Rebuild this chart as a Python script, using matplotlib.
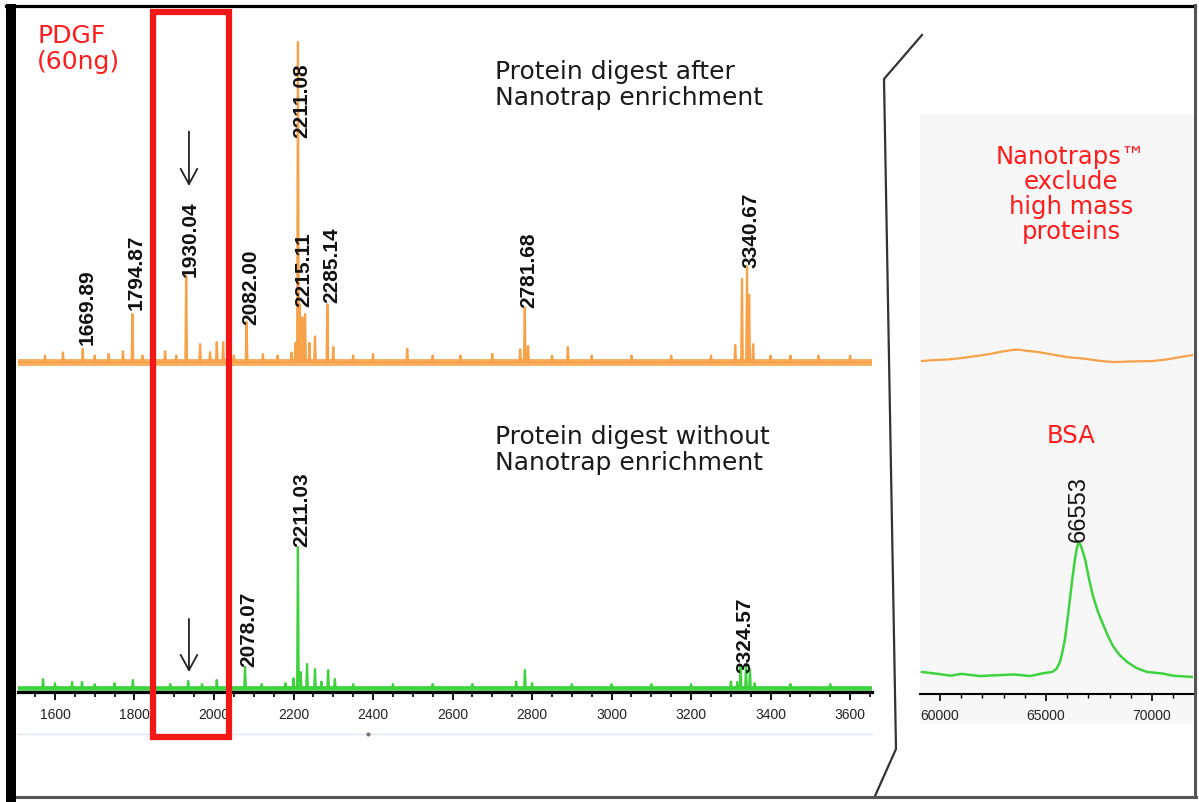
import matplotlib
matplotlib.use("Agg")
import matplotlib.pyplot as plt
from matplotlib.patches import Rectangle
from matplotlib.lines import Line2D
from matplotlib.ticker import MultipleLocator, StrMethodFormatter

# ---- data (m/z, relative intensity) ----
after_mz = [1575, 1620, 1669.89, 1700, 1735, 1771, 1794.87, 1820, 1877, 1905,
            1930.04, 1965, 1990, 2007, 2023, 2050, 2082.00, 2123, 2160, 2195,
            2205, 2211.08, 2215.11, 2222, 2229, 2240, 2254, 2285.14, 2300, 2350,
            2400, 2486, 2550, 2620, 2700, 2770, 2781.68, 2790, 2850, 2890,
            2950, 3050, 3150, 3250, 3311, 3328, 3340.67, 3346, 3356, 3400,
            3450, 3520, 3600]
after_int = [2, 3, 4.1, 2, 2.5, 3.4, 15, 2, 3.4, 2,
             27, 5.6, 3.1, 6.2, 6.2, 2, 12.5, 2.5, 2, 3,
             6, 100, 18, 14, 15, 6, 8, 18, 4.7, 2,
             2.5, 4.1, 2, 2, 2.5, 4, 17, 5, 2, 4.7,
             2, 2, 2, 2, 5.3, 26, 30, 21, 5.6, 2,
             2, 2, 2]

without_mz = [1570, 1600, 1643, 1668, 1700, 1750, 1796, 1850, 1890, 1935,
              1970, 2007, 2040, 2078.07, 2120, 2180, 2200, 2211.03, 2218, 2234,
              2254, 2270, 2287, 2304, 2350, 2450, 2550, 2650, 2760, 2782,
              2800, 2900, 3000, 3100, 3200, 3300, 3316, 3324.57, 3338, 3348,
              3360, 3450, 3550]
without_int = [2.8, 1.5, 1.9, 1.9, 1.2, 1.5, 2.5, 1.2, 1.2, 2.2,
               1.2, 2.5, 1.5, 6.6, 1.2, 1.5, 3, 44, 5, 7.5,
               5.9, 2, 5.6, 2.8, 1.2, 1.2, 1.2, 1.2, 2, 5.6,
               1.5, 1.2, 1.2, 1.2, 1.2, 2, 1.9, 6.6, 7.2, 5.9,
               1.5, 1.2, 1.2]

# annotated peaks: m/z, text, height of label foot
after_lab_mz = [1669.89, 1794.87, 1930.04, 2082.00, 2211.08, 2215.11, 2285.14, 2781.68, 3340.67]
after_lab_txt = ["1669.89", "1794.87", "1930.04", "2082.00", "2211.08", "2215.11",
                 "2285.14", "2781.68", "3340.67"]
after_lab_y = [5.6, 16.6, 26.9, 11.9, 70.3, 17.5, 18.75, 17.2, 29.7]

without_lab_mz = [2078.07, 2211.03, 3324.57]
without_lab_txt = ["2078.07", "2211.03", "3324.57"]
without_lab_y = [6.9, 44.4, 5.0]

# high mass window
hi_after_mz = [59151, 59800, 60400, 61085, 61700, 62358, 62900, 63396, 63700, 64100,
               64575, 65300, 65991, 66800, 67500, 68160, 69000, 70047, 70700, 71321, 71934]
hi_after_int = [5.0, 5.4, 5.6, 6.2, 6.9, 7.7, 8.6, 9.2, 9.4, 8.9,
                8.5, 7.5, 6.5, 5.9, 5.1, 4.6, 4.8, 5.0, 5.6, 6.5, 7.3]

bsa_mz = [59151, 60000, 60500, 61000, 61887, 62500, 63500, 64245, 64800, 65283,
          65500, 65660, 65780, 65896, 66010, 66132, 66250, 66368, 66460, 66553,
          66650, 66840, 67030, 67217, 67430, 67642, 67900, 68160, 68480, 68821,
          69250, 69764, 70500, 71000, 71934]
bsa_int = [7.0, 6.3, 5.8, 6.4, 5.7, 5.9, 6.2, 5.7, 6.5, 7.0,
           8.0, 10.2, 13.5, 17.5, 23.5, 30.2, 37.0, 42.9, 46.5, 48.3,
           47.0, 42.9, 36.5, 31.1, 26.5, 22.9, 18.8, 15.2, 12.3, 10.2,
           8.3, 7.0, 6.5, 5.8, 5.4]
bsa_peak = 66553

W, H = 1199, 803
ORANGE = "#f7a248"
GREEN = "#3fd23f"
RED = "#ff1c1c"

plt.rcParams["font.family"] = ["DejaVu Sans"]
fig = plt.figure(figsize=(W / 100, H / 100), dpi=100)


def box(x0, y0, x1, y1):
    # pixel box (top-left origin) -> figure rect
    return [x0 / W, 1 - y1 / H, (x1 - x0) / W, (y1 - y0) / H]


def fx(x):
    return x / W


def fy(y):
    return 1 - y / H


def sticks(mz, inten, lo, hi, w=2.0):
    xs, ys = [lo], [0]
    for m, h in sorted(zip(mz, inten)):
        xs += [m - w, m, m + w]
        ys += [0, h, 0]
    xs.append(hi)
    ys.append(0)
    return xs, ys


LO, HI = 1507, 3655
HLO, HHI = 59057, 71934

# ---- low mass spectra ----
ax_a = fig.add_axes(box(18, 30, 872, 372))
ax_b = fig.add_axes(box(18, 380, 872, 693))
for ax in (ax_a, ax_b):
    ax.set_xlim(LO, HI)
    ax.patch.set_alpha(0)
    for s in ("top", "right", "left"):
        ax.spines[s].set_visible(False)
    ax.set_yticks([])
ax_a.set_ylim(-2.81, 104.06)
ax_b.set_ylim(-1.25, 96.56)
ax_a.spines["bottom"].set_visible(False)
ax_a.set_xticks([])

ax_a.axhline(0, color=ORANGE, lw=5, alpha=0.85)
x, y = sticks(after_mz, after_int, LO, HI)
ax_a.plot(x, y, color=ORANGE, lw=1.6)

ax_b.axhline(0, color=GREEN, lw=3.5, alpha=0.9)
x, y = sticks(without_mz, without_int, LO, HI)
ax_b.plot(x, y, color=GREEN, lw=1.6)
ax_b.spines["bottom"].set_linewidth(2.3)
ax_b.xaxis.set_major_locator(MultipleLocator(200))
ax_b.xaxis.set_minor_locator(MultipleLocator(50))
ax_b.tick_params(axis="x", which="major", length=5.5, width=1.3, pad=5,
                 labelsize=10, labelfontfamily="Liberation Sans", labelcolor="#222222")
ax_b.tick_params(axis="x", which="minor", length=3.5, width=1.2)

for ax, mzs, txts, ys in ((ax_a, after_lab_mz, after_lab_txt, after_lab_y),
                          (ax_b, without_lab_mz, without_lab_txt, without_lab_y)):
    for m, t, yy in zip(mzs, txts, ys):
        ax.annotate(t, (m, yy), xytext=(3, 0), textcoords="offset points",
                    rotation=90, ha="center", va="bottom", fontsize=15,
                    fontweight="bold", family="Liberation Sans", color="#111111",
                    annotation_clip=False)

arrow = dict(arrowstyle="->,head_length=0.55,head_width=0.3", color="#222222",
             lw=1.3, mutation_scale=20, shrinkA=0, shrinkB=0)
ax_a.annotate("", xy=(1937, 55), xytext=(1937, 72), arrowprops=arrow,
              annotation_clip=False)
ax_b.annotate("", xy=(1937, 5), xytext=(1937, 21.6), arrowprops=arrow,
              annotation_clip=False)

fig.text(fx(495), fy(60), "Protein digest after\nNanotrap enrichment",
         fontsize=18, va="top", ha="left", linespacing=1.12, color="#1a1a1a")
fig.text(fx(495), fy(425), "Protein digest without\nNanotrap enrichment",
         fontsize=18, va="top", ha="left", linespacing=1.12, color="#1a1a1a")
fig.text(fx(37), fy(24), "PDGF\n(60ng)", fontsize=18, va="top", ha="left",
         linespacing=1.1, color=RED)

# faint line under the axis
fig.add_artist(Line2D([fx(18), fx(872)], [fy(735), fy(735)], color="#dde6f4", lw=1))
fig.add_artist(Line2D([fx(368)], [fy(735)], marker="o", ms=2, color="#777777"))

# ---- high mass window ----
fig.add_artist(Rectangle((fx(920), fy(725)), fx(1193) - fx(920), fy(115) - fy(725),
                         transform=fig.transFigure, facecolor="#f7f7f7",
                         edgecolor="none", zorder=0))
ax_c = fig.add_axes(box(920, 115, 1193, 375))
ax_d = fig.add_axes(box(920, 380, 1193, 695))
for ax in (ax_c, ax_d):
    ax.set_xlim(HLO, HHI)
    ax.set_ylim(0, 100)
    ax.patch.set_alpha(0)
    for s in ("top", "right", "left"):
        ax.spines[s].set_visible(False)
    ax.set_yticks([])
ax_c.spines["bottom"].set_visible(False)
ax_c.set_xticks([])
ax_c.plot(hi_after_mz, hi_after_int, color=ORANGE, lw=1.6)
ax_d.plot(bsa_mz, bsa_int, color=GREEN, lw=1.8)
ax_d.spines["bottom"].set_linewidth(1.5)
ax_d.xaxis.set_major_locator(MultipleLocator(5000))
ax_d.xaxis.set_minor_locator(MultipleLocator(1000))
ax_d.xaxis.set_major_formatter(StrMethodFormatter("{x:.0f}"))
ax_d.tick_params(axis="x", which="major", length=5, width=1.2, pad=5,
                 labelsize=10, labelfontfamily="Liberation Sans", labelcolor="#222222")
ax_d.tick_params(axis="x", which="minor", length=3, width=1)
ax_d.annotate(str(bsa_peak), (bsa_peak, 48.6), rotation=90, ha="center",
              va="bottom", fontsize=17, family="Liberation Sans", color="#111111",
              annotation_clip=False)

fig.text(fx(1071), fy(145), "Nanotraps\u2122\nexclude\nhigh mass\nproteins",
         fontsize=17.5, ha="center", va="top", linespacing=1.05, color=RED)
fig.text(fx(1071), fy(424), "BSA", fontsize=17.5, ha="center", va="top", color=RED)

# ---- zigzag connector ----
fig.add_artist(Line2D([fx(922), fx(884), fx(896), fx(875)],
                      [fy(36), fy(80), fy(750), fy(797)], color="#333333", lw=1.6))

# ---- red highlight box ----
fig.add_artist(Rectangle((fx(153), fy(738)), fx(229) - fx(153), fy(13) - fy(738),
                         transform=fig.transFigure, fill=False, edgecolor="#f21818",
                         lw=4.5, zorder=20))

# ---- outer frame ----
fig.add_artist(Rectangle((fx(6), fy(803)), fx(10), fy(5) - fy(803),
                         transform=fig.transFigure, facecolor="black",
                         edgecolor="none", zorder=15))
fig.add_artist(Line2D([fx(6), fx(1195)], [fy(6.5), fy(6.5)], color="black", lw=2.3))
fig.add_artist(Line2D([fx(1194.5), fx(1194.5)], [fy(6), fy(798)], color="#555555", lw=2.2))
fig.add_artist(Line2D([fx(16), fx(1196)], [fy(797.5), fy(797.5)], color="#555555", lw=2.2))

fig.savefig("out.png", dpi=100)
